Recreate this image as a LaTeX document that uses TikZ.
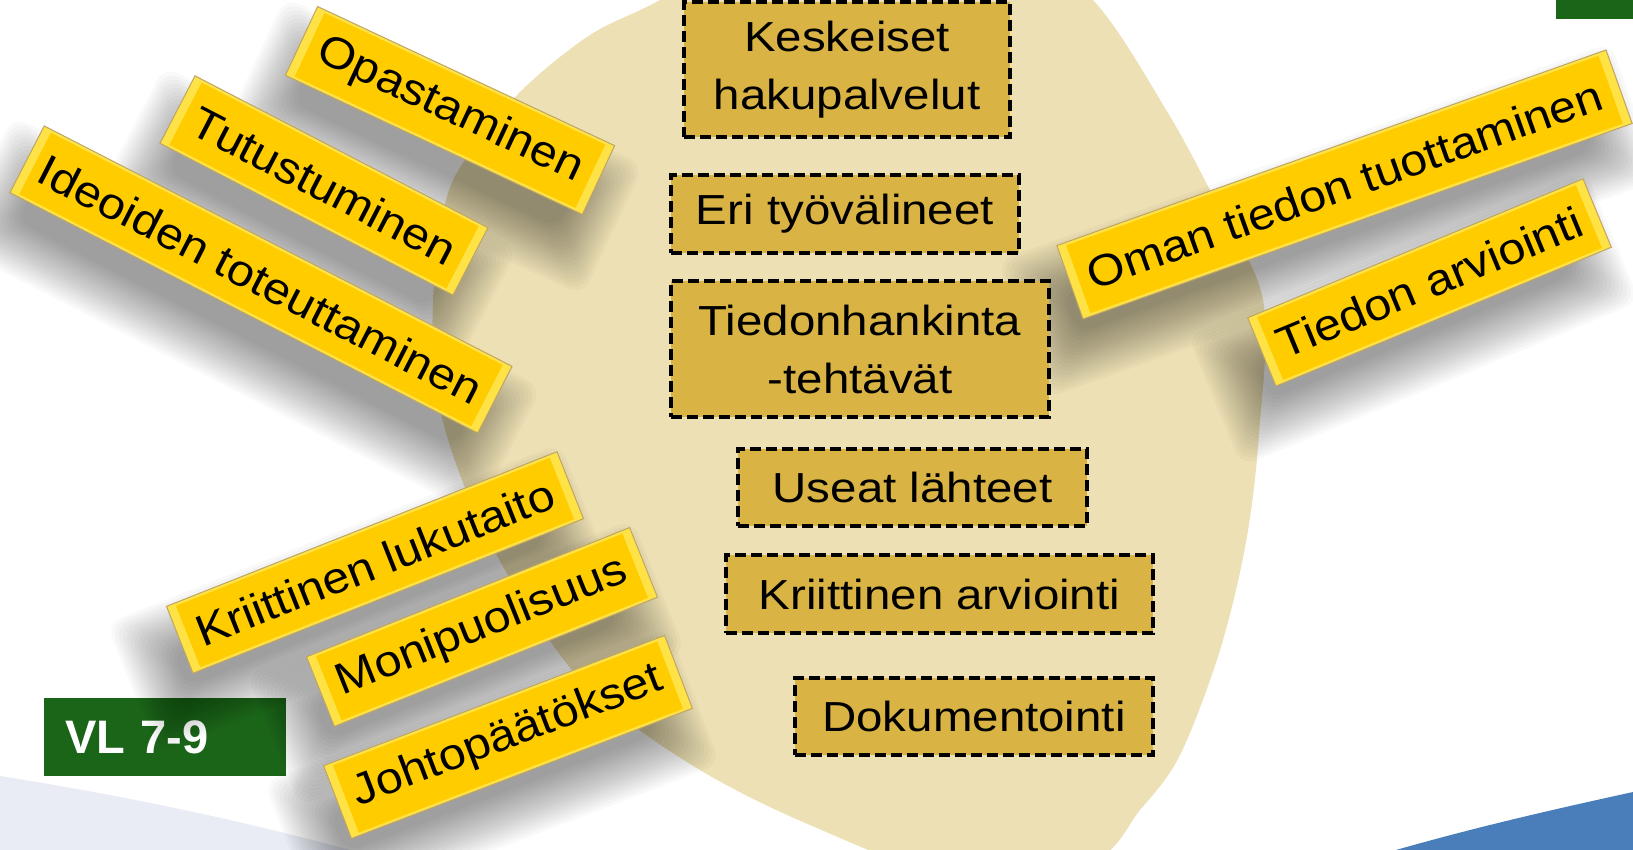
\documentclass[tikz,border=0pt]{standalone}
\usepackage{fontspec}
\setmainfont{Liberation Sans}
\usepackage{graphicx}
\definecolor{blobc}{RGB}{237,224,181}
\definecolor{boxgold}{RGB}{217,179,67}
\definecolor{ygold}{RGB}{255,204,0}
\definecolor{ylight}{RGB}{255,226,70}
\definecolor{yedge}{RGB}{190,165,100}
\definecolor{vlgreen}{RGB}{27,101,25}
\definecolor{lav}{RGB}{233,235,245}
\definecolor{swblue}{RGB}{74,126,187}
\tikzset{
  dbox/.style={draw=black, line width=3.4pt, dash pattern=on 11pt off 5pt, fill=boxgold,
    inner sep=0pt, align=center, font=\fontsize{42}{58}\selectfont},
  ybo/.style={fill=ylight, draw=yedge, line width=1pt, inner sep=0pt},
  ybi/.style={fill=ygold, inner sep=0pt, font=\fontsize{44}{50}\selectfont},
  vlbox/.style={fill=vlgreen, text=white, inner xsep=21pt, inner ysep=0pt, align=left,
    font=\bfseries\fontsize{47}{50}\selectfont}
}
\newcommand\wid[1]{\scalebox{1.13}[1]{#1}}
\newcommand\shadowbar[5]{%
  \foreach \sr in {34,31,...,-17}{%
    \fill[black, opacity=0.022, rounded corners=16pt, rotate around={#3:({#1-16},{#2+36})}]
      ({#1-16-#4/2-\sr},{#2+36-#5/2-\sr}) rectangle ({#1-16+#4/2+\sr},{#2+36+#5/2+\sr});
  }}
\newcommand\ybar[7]{%
  \node[ybo, rotate=#4, minimum width=#5pt, minimum height=#6pt] (#1o) at (#2,#3) {};
  \node[ybi, rotate=#4, minimum width={(#5-18)*1pt}, minimum height={(#6-6)*1pt}] (#1) at (#2,#3) {\scalebox{1.1}[1]{#7}};}
\begin{document}
\begin{tikzpicture}[x=1pt,y=-1pt]
\useasboundingbox (0,0) rectangle (1633,850);
\clip (0,0) rectangle (1633,850);
\fill[white] (0,0) rectangle (1633,850);
% background swooshes
\fill[lav] (0,776) .. controls (120,795) and (240,820) .. (350,850) -- (0,850) -- cycle;
\fill[swblue] (1396,850) .. controls (1480,826) and (1560,808) .. (1633,792) -- (1633,850) -- cycle;
% beige blob
\fill[blobc] plot[smooth cycle, tension=0.55] coordinates {
  (760,-60) (660,0) (590,35) (522,90) (472,150) (446,200) (433,300) (438,400)
  (470,500) (520,595) (590,690) (695,767) (810,825) (950,875) (1090,862)
  (1140,810) (1180,755) (1220,650) (1246,542) (1259,434) (1263,300)
  (1215,200) (1165,108) (1093,0) (1000,-70) (880,-90)};
% green boxes
\fill[vlgreen] (1556,0) rectangle (1633,19);
\node[vlbox, text width=200pt, minimum height=78pt] (vl) at (165,737) {VL 7-9};
% shadows
\shadowbar{450}{110.5}{-25.1}{328}{76}
\shadowbar{324}{185.5}{-27.4}{330}{76}
\shadowbar{261}{279.5}{-27.2}{526}{75}
\shadowbar{1344.5}{184.5}{19.6}{583}{78}
\shadowbar{1429.5}{282.5}{22.5}{363}{74}
\shadowbar{375}{562.5}{21.6}{420}{72}
\shadowbar{482}{627}{21.8}{348}{75}
\shadowbar{508}{737}{20.9}{365}{78}
% dashed boxes
\node[dbox, minimum width=326pt, minimum height=135pt] (kh) at (847,69.5) {\wid{Keskeiset}\\\wid{hakupalvelut}};
\node[dbox, minimum width=348pt, minimum height=78pt] (et) at (845,214) {\wid{Eri työvälineet}};
\node[dbox, minimum width=378pt, minimum height=136pt] (th) at (860,349) {\wid{Tiedonhankinta}\\\wid{-tehtävät}};
\node[dbox, minimum width=349pt, minimum height=77pt] (ul) at (912.5,487.5) {\wid{Useat lähteet}};
\node[dbox, minimum width=427pt, minimum height=78pt] (ka) at (939.5,594) {\wid{Kriittinen arviointi}};
\node[dbox, minimum width=358pt, minimum height=77pt] (dk) at (974,716.5) {\wid{Dokumentointi}};
% yellow labels
\ybar{op}{450}{110.5}{-25.1}{328}{76}{Opastaminen}
\ybar{tu}{324}{185.5}{-27.4}{330}{76}{Tutustuminen}
\ybar{id}{261}{279.5}{-27.2}{526}{75}{Ideoiden toteuttaminen}
\ybar{om}{1344.5}{184.5}{19.6}{583}{78}{Oman tiedon tuottaminen}
\ybar{ta}{1429.5}{282.5}{22.5}{363}{74}{Tiedon arviointi}
\ybar{kl}{375}{562.5}{21.6}{420}{72}{Kriittinen lukutaito}
\ybar{mp}{482}{627}{21.8}{348}{75}{Monipuolisuus}
\ybar{jp}{508}{737}{20.9}{365}{78}{Johtopäätökset}
\end{tikzpicture}
\end{document}
